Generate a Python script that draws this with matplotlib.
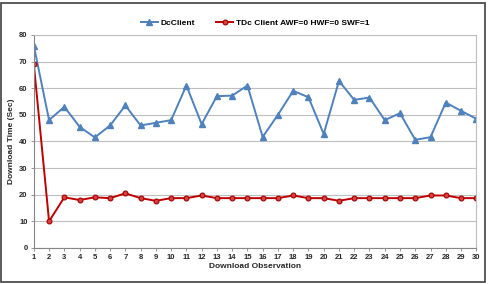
import matplotlib.pyplot as plt
import numpy as np

plt.rcParams['font.family'] = ['Liberation Sans', 'DejaVu Sans']

obs = list(range(1, 31))
dc_client = [76, 48, 53, 45.5, 41.5, 46, 53.5, 46, 47, 48,
             61, 46.5, 57, 57.2, 61, 41.7, 50, 59, 56.6, 42.8,
             62.7, 55.6, 56.5, 48, 50.6, 40.6, 41.6, 54.6, 51.5, 48.5]
tdc_client = [69, 10, 19, 18, 19, 18.7, 20.5, 18.7, 17.7, 18.7,
              18.7, 19.7, 18.7, 18.7, 18.7, 18.7, 18.7, 19.7, 18.7, 18.7,
              17.7, 18.7, 18.7, 18.7, 18.7, 18.7, 19.7, 19.7, 18.7, 18.7]
y_ticks = [0, 10, 20, 30, 40, 50, 60, 70, 80]

fig = plt.figure(figsize=(4.9, 2.84), dpi=100)
fig.patches.append(plt.Rectangle((0.003, 0.007), 0.986, 0.982, transform=fig.transFigure,
                                 fill=False, edgecolor='#404040', linewidth=1.2))
ax = fig.add_axes([0.069, 0.127, 0.903, 0.75])

ax.plot(obs, dc_client, color='#4F81BD', linewidth=1.4, marker='^', markersize=4,
        label='DcClient')
ax.plot(obs, tdc_client, color='#C00000', linewidth=1.4, marker='o', markersize=3.5,
        markerfacecolor='#D9403F', markeredgecolor='#A00000', markeredgewidth=0.8,
        label='TDc Client AWF=0 HWF=0 SWF=1')

ax.set_xlim(1, 30)
ax.set_ylim(0, 80)
ax.set_xticks(obs)
ax.set_yticks(y_ticks)
ax.grid(axis='y', color='#BFBFBF', linewidth=0.8)
ax.set_axisbelow(True)
for s in ['top', 'right']:
    ax.spines[s].set_color('#BFBFBF')
for s in ['left', 'bottom']:
    ax.spines[s].set_color('#868686')
ax.tick_params(labelsize=5.5, length=2.5, width=0.6, color='#868686', labelcolor='#262626', pad=2)
for lbl in ax.get_xticklabels() + ax.get_yticklabels():
    lbl.set_fontweight('bold')

ax.set_xlabel('Download Observation', fontsize=6, fontweight='bold', color='#262626', labelpad=1)
ax.set_ylabel('Download Time (Sec)', fontsize=6, fontweight='bold', color='#262626', labelpad=3)

ax.legend(loc='lower center', bbox_to_anchor=(0.5, 1.0), ncol=2, frameon=False,
          prop={'weight': 'bold', 'size': 6}, handlelength=2.0, handletextpad=0.3,
          columnspacing=2.6, borderaxespad=0.6)

fig.savefig('out.png', dpi=100)
